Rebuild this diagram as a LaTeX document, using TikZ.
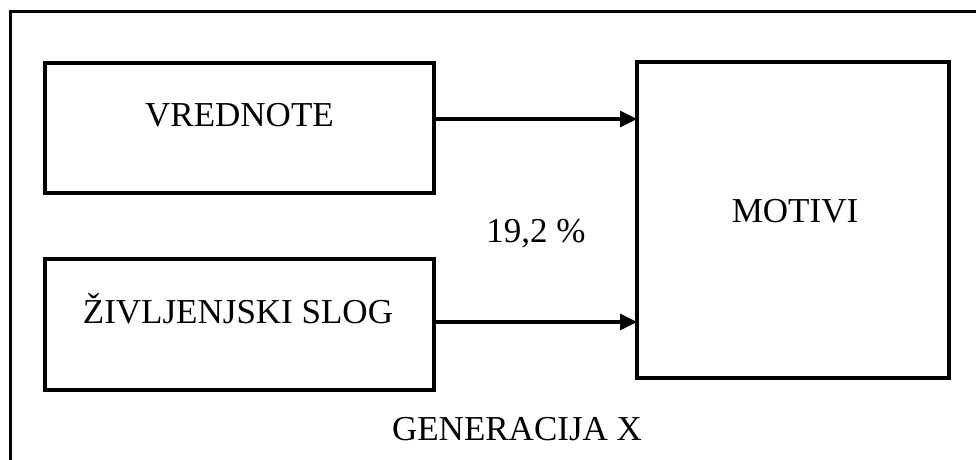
\documentclass[tikz,border=0pt]{standalone}
\usepackage{fontspec}
\setmainfont{Liberation Serif}
\usetikzlibrary{arrows.meta}
\tikzset{
  box/.style={draw, line width=3.2pt, inner sep=0pt, outer sep=0pt},
  lbl/.style={anchor=base, inner sep=0pt, font=\fontsize{35}{40}\selectfont},
  arr/.style={line width=3.2pt, -{Triangle[length=17pt,width=16pt]}},
}
\begin{document}
\begin{tikzpicture}[x=1pt,y=-1pt]
\useasboundingbox (0,0) rectangle (976,459);
\fill[white] (0,0) rectangle (976,459);
% outer frame (cut off at right and bottom)
\draw[line width=3.6pt] (10.5,470) -- (10.5,11.5) -- (990,11.5);
% boxes
\node[box, minimum width=389pt, minimum height=130pt] (vred) at (239.5,128) {};
\node[box, minimum width=389pt, minimum height=131pt] (ziv) at (239.5,324.5) {};
\node[box, minimum width=312pt, minimum height=316pt] (motivi) at (793,220) {};
% labels
\node[lbl] (tvred) at (239.5,126) {VREDNOTE};
\node[lbl] (tziv) at (238,323) {ŽIVLJENJSKI SLOG};
\node[lbl] (tmot) at (795,222) {MOTIVI};
\node[lbl] (tpct) at (536,242) {19,2 \%};
\node[lbl] (tgen) at (517,440) {GENERACIJA X};
% arrows
\draw[arr] (vred.east |- 0,119) -- (motivi.west |- 0,119);
\draw[arr] (ziv.east |- 0,322) -- (motivi.west |- 0,322);
\end{tikzpicture}
\end{document}
